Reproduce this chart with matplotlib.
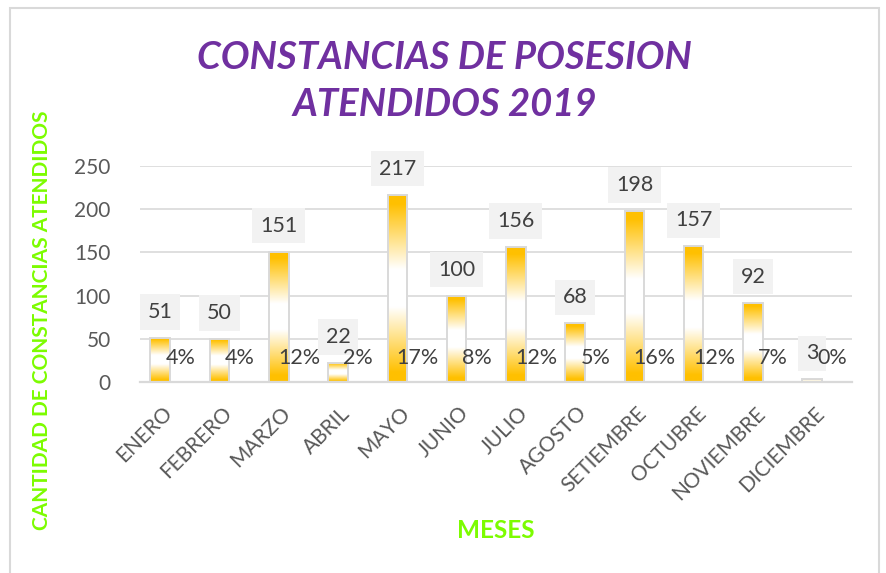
import numpy as np
import matplotlib
matplotlib.use("Agg")
import matplotlib.pyplot as plt
from matplotlib.colors import LinearSegmentedColormap
from matplotlib.patches import Rectangle
from matplotlib.transforms import ScaledTranslation

plt.rcParams['font.family'] = ['Lato', 'DejaVu Sans']

meses = ["ENERO", "FEBRERO", "MARZO", "ABRIL", "MAYO", "JUNIO", "JULIO",
         "AGOSTO", "SETIEMBRE", "OCTUBRE", "NOVIEMBRE", "DICIEMBRE"]
cantidades = [51, 50, 151, 22, 217, 100, 156, 68, 198, 157, 92, 3]
porcentajes = ["4%", "4%", "12%", "2%", "17%", "8%", "12%", "5%", "16%", "12%", "7%", "0%"]
y_ticks = [0, 50, 100, 150, 200, 250]

titulo = "CONSTANCIAS DE POSESION\nATENDIDOS 2019"
y_label = "CANTIDAD DE CONSTANCIAS ATENDIDOS"
x_label = "MESES"

GOLD = "#FFC000"
GRID = "#D9D9D9"
TXT = "#595959"
LBL = "#404040"
GREEN = "#7CFC00"
PURPLE = "#7030A0"

fig = plt.figure(figsize=(8.86, 5.73), dpi=100)
ax = fig.add_axes([140/886, 1-382/573, (852-140)/886, (382-166)/573])

x = np.arange(len(meses))
width = 0.33
bars = ax.bar(x, cantidades, width=width, facecolor='none', edgecolor=GRID,
              linewidth=1.4, zorder=3)

cmap = LinearSegmentedColormap.from_list(
    "g", [(0.0, GOLD), (0.05, GOLD), (0.4, "#FFFFFF"), (0.6, "#FFFFFF"),
          (0.95, GOLD), (1.0, GOLD)])
grad = np.linspace(0, 1, 256).reshape(-1, 1)
for b in bars:
    x0, w, h = b.get_x(), b.get_width(), b.get_height()
    im = ax.imshow(grad, cmap=cmap, aspect='auto', extent=(x0, x0 + w, 0, h),
                   origin='lower', zorder=2, interpolation='bilinear')
    im.set_clip_path(b)

ax.set_xlim(-0.34, 11.67)
ax.set_ylim(0, 250)
ax.set_yticks(y_ticks)
ax.set_yticklabels([str(v) for v in y_ticks], fontsize=15, color=TXT)
ax.grid(axis='y', color=GRID, linewidth=1.2, zorder=0)
ax.set_axisbelow(True)
for s in ['top', 'right', 'left']:
    ax.spines[s].set_visible(False)
ax.spines['bottom'].set_color(GRID)
ax.spines['bottom'].set_linewidth(1.6)
ax.tick_params(axis='y', length=0, pad=21)
ax.tick_params(axis='x', length=0, pad=0)

ax.set_xticks(x)
ax.set_xticklabels(meses, fontsize=15, color=TXT, rotation=45,
                   ha='right', va='center', rotation_mode='anchor')
off = ScaledTranslation(0.09, -0.28, fig.dpi_scale_trans)
for lab in ax.get_xticklabels():
    lab.set_transform(lab.get_transform() + off)

for i, v in enumerate(cantidades):
    ax.annotate(str(v), xy=(i, v), xytext=(0, 18.7), textcoords='offset points',
                ha='center', va='center', fontsize=15.5, color=LBL, zorder=5,
                annotation_clip=False,
                bbox=dict(boxstyle='square,pad=0.36', facecolor='#F2F2F2',
                          edgecolor='none'))
for i, p in enumerate(porcentajes):
    ax.annotate(p, xy=(i + 0.34, 0), xytext=(0, 17.3), textcoords='offset points',
                ha='center', va='center', fontsize=15.5, color=LBL, zorder=6,
                annotation_clip=False)

fig.text(0.502, 1-81/573, titulo, ha='center', va='center', fontsize=27.5,
         fontweight='bold', fontstyle='italic', color=PURPLE, linespacing=1.42)
fig.text(42/886, 1-320/573, y_label, rotation=90, ha='center', va='center',
         fontsize=15, fontweight='bold', color=GREEN)
fig.text(496/886, 1-531/573, x_label, ha='center', va='center',
         fontsize=17.5, fontweight='bold', color=GREEN)

fig.patches.append(Rectangle((10/886, -0.01), (879-10)/886, 1-8/573+0.01,
                             transform=fig.transFigure, facecolor='none',
                             edgecolor=GRID, linewidth=1.5))

fig.savefig("out.png", dpi=100)
